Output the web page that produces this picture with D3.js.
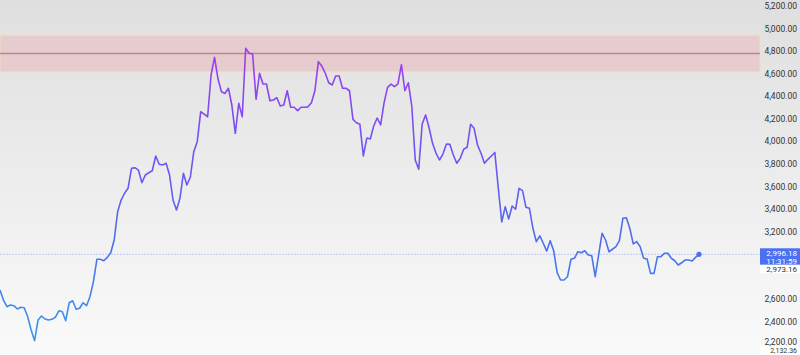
<!DOCTYPE html>
<html>
<head>
<meta charset="utf-8">
<script src="https://cdn.jsdelivr.net/npm/d3@7"></script>
<style>
  body { margin: 0; background: #fff; }
  text { font-family: Roboto, "Noto Sans", sans-serif; }
</style>
</head>
<body>
<svg id="chart" width="800" height="355"></svg>
<script>
// price series (equally spaced samples)
var prices = [
  2679, 2590, 2531, 2546, 2540, 2511, 2526, 2522, 2442, 2324,
  2229, 2413, 2448, 2422, 2413, 2419, 2437, 2495, 2487, 2407,
  2566, 2584, 2508, 2517, 2566, 2540, 2620, 2753, 2952, 2952,
  2939, 2969, 3010, 3123, 3374, 3478, 3538, 3582, 3759, 3765,
  3744, 3632, 3700, 3720, 3738, 3869, 3795, 3789, 3804, 3700,
  3478, 3389, 3493, 3715, 3611, 3680, 3907, 3996, 4262, 4241,
  4217, 4588, 4745, 4552, 4439, 4423, 4470, 4321, 4070, 4336,
  4217, 4825, 4780, 4774, 4372, 4603, 4508, 4508, 4359, 4366,
  4386, 4312, 4321, 4448, 4301, 4301, 4271, 4301, 4301, 4305,
  4342, 4448, 4706, 4667, 4603, 4519, 4499, 4579, 4579, 4470,
  4470, 4448, 4194, 4164, 4150, 3869, 4028, 4020, 4135, 4206,
  4144, 4343, 4478, 4506, 4484, 4508, 4679, 4448, 4519, 4312,
  3833, 3751, 4153, 4233, 4119, 3981, 3895, 3833, 3886, 3975,
  3972, 3877, 3804, 3848, 3928, 3946, 4151, 4114, 3966, 3893,
  3804, 3839, 3869, 3900, 3582, 3283, 3419, 3309, 3425, 3396,
  3582, 3561, 3413, 3404, 3227, 3108, 3159, 3094, 3025, 3117,
  3028, 2833, 2768, 2768, 2797, 2952, 2961, 3019, 3010, 3028,
  2990, 2984, 2797, 2990, 3183, 3123, 3019, 3041, 3064, 3117,
  3316, 3321, 3227, 3088, 3108, 3064, 2961, 2954, 2827, 2827,
  2975, 2975, 3005, 3005, 2961, 2939, 2901, 2921, 2946, 2946,
  2937, 2969, 2996.18
];

var tickValues = [2200, 2400, 2600, 3200, 3400, 3600, 3800, 4000, 4200,
                  4400, 4600, 4800, 5000, 5200];

var lastPrice = 2996.18;
var lastTime = "11:31:59";
var prevClose = 2973.16;
var lowLabel = 2132.36;

// resistance zone
var zoneLow = 4615, zoneHigh = 4942, zoneMid = 4779;

var width = 800, height = 355;
var plotRight = 760;

var svg = d3.select("#chart");
var defs = svg.append("defs");

var bg = defs.append("linearGradient")
  .attr("id", "bg").attr("x1", 0).attr("y1", 0).attr("x2", 0).attr("y2", 1);
bg.append("stop").attr("offset", "0%").attr("stop-color", "#dfdfdf");
bg.append("stop").attr("offset", "100%").attr("stop-color", "#fafafa");

svg.append("rect")
  .attr("width", width).attr("height", height)
  .attr("fill", "url(#bg)");

var x = d3.scaleLinear()
  .domain([0, prices.length - 1])
  .range([0, 699]);

var y = d3.scaleLinear()
  .domain([2200, 5200])
  .range([344, 6]);

// zone
svg.append("rect")
  .attr("x", 0).attr("width", plotRight)
  .attr("y", y(zoneHigh))
  .attr("height", y(zoneLow) - y(zoneHigh))
  .attr("fill", "#e6cccf")
  .attr("stroke", "#f2dfc8")
  .attr("stroke-width", 1);

svg.append("line")
  .attr("x1", 0).attr("x2", plotRight)
  .attr("y1", y(zoneMid)).attr("y2", y(zoneMid))
  .style("stroke", "#c0848c")
  .style("stroke-width", 1.5);

// last price line
svg.append("line")
  .attr("x1", 0).attr("x2", plotRight)
  .attr("y1", y(lastPrice)).attr("y2", y(lastPrice))
  .style("stroke", "#c2ccf4")
  .style("stroke-width", 1)
  .style("stroke-dasharray", "2,1");

// line colour by price
var lg = defs.append("linearGradient")
  .attr("id", "lineGrad")
  .attr("gradientUnits", "userSpaceOnUse")
  .attr("x1", 0).attr("x2", 0)
  .attr("y1", y(2200)).attr("y2", y(4850));
lg.append("stop").attr("offset", "0%").attr("stop-color", "#3a9be8");
lg.append("stop").attr("offset", "30%").attr("stop-color", "#4a72ef");
lg.append("stop").attr("offset", "60%").attr("stop-color", "#6a58f2");
lg.append("stop").attr("offset", "100%").attr("stop-color", "#a23cf0");

var valueLine = d3.line()
  .x(function(d, i) { return x(i); })
  .y(function(d) { return y(d); });

svg.append("path")
  .datum(prices)
  .attr("d", valueLine)
  .style("fill", "none")
  .style("stroke", "url(#lineGrad)")
  .style("stroke-width", 1.6)
  .style("stroke-linejoin", "round");

svg.append("circle")
  .attr("cx", x(prices.length - 1))
  .attr("cy", y(lastPrice))
  .attr("r", 2.6)
  .attr("fill", "#4a6ff0");

// right axis
var fmt = d3.format(",.2f");
var axis = svg.append("g").attr("transform", "translate(797,0)");
axis.call(d3.axisRight(y).tickValues(tickValues).tickSize(0).tickFormat(fmt));
axis.select(".domain").remove();
axis.selectAll("text")
  .attr("x", 0)
  .attr("y", function(d) { return d === 2200 ? -2.5 : 0; }) // make room for low label
  .attr("text-anchor", "end")
  .style("font-size", "8.5px")
  .style("fill", "#333");

// low label, nudged up so it stays inside the frame
var yl = Math.min(y(lowLabel), 350.8);
svg.append("rect")
  .attr("x", plotRight).attr("y", yl - 3.5)
  .attr("width", 40).attr("height", 8)
  .attr("fill", "#ffffff");
svg.append("text")
  .attr("x", 797).attr("y", yl)
  .attr("dy", "0.35em")
  .attr("text-anchor", "end")
  .style("font-size", "7px").style("fill", "#333")
  .text(fmt(lowLabel));

// current price tag
var yp = y(lastPrice);
svg.append("rect")
  .attr("x", plotRight).attr("y", yp - 6)
  .attr("width", 40).attr("height", 16.5)
  .attr("fill", "#4a6ff0");
svg.append("text")
  .attr("x", 797).attr("y", yp - 1)
  .attr("dy", "0.35em")
  .attr("text-anchor", "end")
  .style("font-size", "8px").style("fill", "#fff")
  .text(fmt(lastPrice));
svg.append("text")
  .attr("x", 797).attr("y", yp + 6.5)
  .attr("dy", "0.35em")
  .attr("text-anchor", "end")
  .style("font-size", "8px").style("fill", "#fff")
  .text(lastTime);

svg.append("rect")
  .attr("x", plotRight).attr("y", yp + 10.5)
  .attr("width", 40).attr("height", 8.5)
  .attr("fill", "#ffffff");
svg.append("text")
  .attr("x", 797).attr("y", yp + 14.5)
  .attr("dy", "0.35em")
  .attr("text-anchor", "end")
  .style("font-size", "8px").style("fill", "#333")
  .text(fmt(prevClose));
</script>
</body>
</html>
